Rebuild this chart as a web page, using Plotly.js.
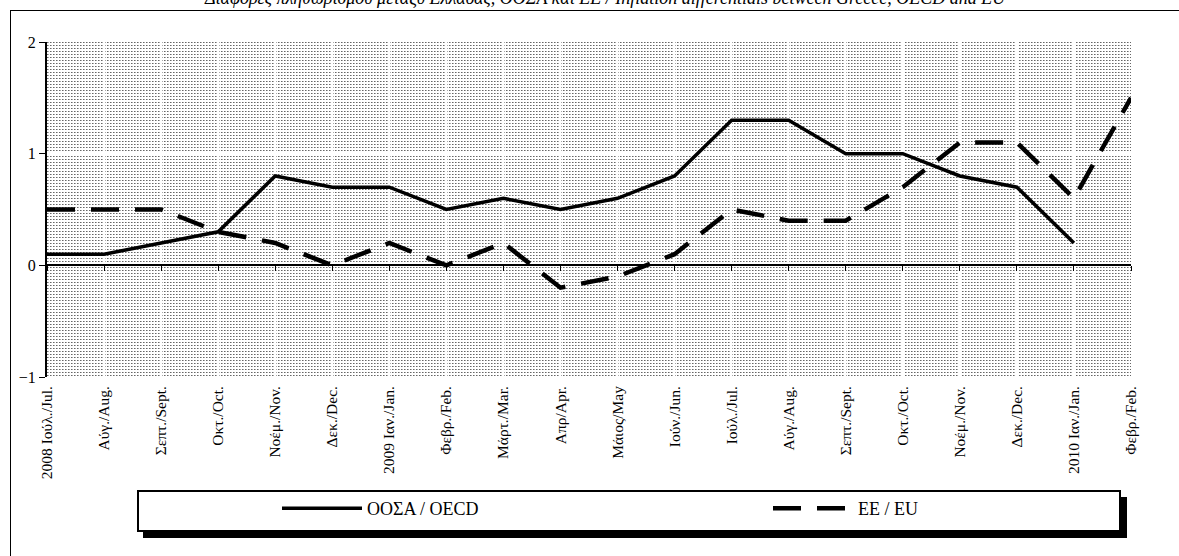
<!DOCTYPE html>
<html>
<head>
<meta charset="utf-8">
<script src="https://cdn.plot.ly/plotly-3.0.1.min.js"></script>
<style>
html,body{margin:0;padding:0;background:#fff;overflow:hidden;}
#frame{position:absolute;left:10px;top:10px;width:1300px;height:700px;border:1px solid #000;box-sizing:border-box;}
#pat{position:absolute;left:47px;top:42px;width:1084px;height:335px;
 background-color:#fff;
 background-image:url("data:image/svg+xml;utf8,<svg xmlns='http://www.w3.org/2000/svg' width='3' height='3'><rect x='0' y='0' width='1' height='1' fill='%23666'/><rect x='1' y='0' width='1' height='1' fill='%23aaa'/></svg>");
 background-size:3px 3px;}
#chart{position:absolute;left:0;top:0;width:1179px;height:556px;}
</style>
</head>
<body>
<div id="frame"></div>
<div id="pat"></div>
<div id="chart"></div>
<script>
const months = ["2008 Ιούλ./Jul.","Αύγ./Aug.","Σεπτ./Sept.","Οκτ./Oct.","Νοέμ./Nov.","Δεκ./Dec.",
  "2009 Ιαν./Jan.","Φεβρ./Feb.","Μάρτ./Mar.","Απρ/Apr.","Μάιος/May","Ιούν./Jun.",
  "Ιούλ./Jul.","Αύγ./Aug.","Σεπτ./Sept.","Οκτ./Oct.","Νοέμ./Nov.","Δεκ./Dec.",
  "2010 Ιαν./Jan.","Φεβρ./Feb."];
const oecd = [0.1,0.1,0.2,0.3,0.8,0.7,0.7,0.5,0.6,0.5,0.6,0.8,1.3,1.3,1.0,1.0,0.8,0.7,0.2,null];
const eu   = [0.5,0.5,0.5,0.3,0.2,0.0,0.2,0.0,0.2,-0.2,-0.1,0.1,0.5,0.4,0.4,0.7,1.1,1.1,0.6,1.5];
const yTicks = [-1,0,1,2];
const titleText = "Διαφορές πληθωρισμού μεταξύ Ελλάδας, ΟΟΣΑ και ΕΕ / Inflation differentials between Greece, OECD and EU";

const idx = months.map((m,i)=>i);
const serif = "Liberation Serif, Times New Roman, serif";

const L = 47, R = 1131, T = 42, B = 377;
const W = R - L, H = B - T;
const px = x => (x - L) / W;
const py = y => (B - y) / H;

const traces = [
  {x: idx, y: oecd, name: "ΟΟΣΑ / OECD", type: "scatter", mode: "lines",
   line: {color: "#000", width: 3.5}, xaxis: "x", yaxis: "y", legend: "legend"},
  {x: idx, y: eu, name: "ΕΕ / EU", type: "scatter", mode: "lines",
   line: {color: "#000", width: 4.5, dash: "28px,16px"}, xaxis: "x2", yaxis: "y", legend: "legend2"}
];

const legStyle = {
  orientation: "h", xanchor: "left", yanchor: "top",
  bgcolor: "rgba(0,0,0,0)", borderwidth: 0,
  font: {family: serif, size: 18, color: "#000"},
  itemwidth: 80, itemclick: false, itemdoubleclick: false
};

const layout = {
  width: 1179, height: 556,
  margin: {l: L, r: 1179 - R, t: T, b: 556 - B, pad: 0},
  paper_bgcolor: "rgba(0,0,0,0)",
  plot_bgcolor: "rgba(0,0,0,0)",
  font: {family: serif, color: "#000", size: 15},
  showlegend: true,
  legend: Object.assign({}, legStyle, {x: px(277), y: py(490)}),
  legend2: Object.assign({}, legStyle, {x: px(768), y: py(490)}),
  xaxis: {
    range: [0, 19], tickmode: "array", tickvals: idx, ticktext: months,
    tickangle: -90, tickfont: {family: serif, size: 15.5, color: "#000"},
    ticks: "", showline: false, zeroline: false, ticklabelstandoff: 5,
    showgrid: true, gridcolor: "#fff", gridwidth: 1.5,
    fixedrange: true, automargin: false
  },
  xaxis2: {
    range: [0, 19], overlaying: "x", anchor: "free", position: py(265),
    tickmode: "array", tickvals: idx, showticklabels: false,
    ticks: "outside", ticklen: 5, tickwidth: 1, tickcolor: "#000",
    showline: true, linecolor: "#000", linewidth: 2,
    showgrid: false, zeroline: false, fixedrange: true
  },
  yaxis: {
    range: [-1, 2], tickmode: "array", tickvals: yTicks,
    ticks: "outside", ticklen: 6, tickwidth: 1, tickcolor: "#000",
    showline: true, linecolor: "#000", linewidth: 2,
    showgrid: true, gridcolor: "#fff", gridwidth: 1.5, zeroline: false,
    tickfont: {family: serif, size: 16, color: "#000"},
    fixedrange: true, automargin: false
  },
  annotations: [{
    text: "<i>" + titleText + "</i>", xref: "paper", yref: "paper",
    x: px(605), y: py(10), xanchor: "center", yanchor: "bottom",
    showarrow: false, font: {family: serif, size: 18, color: "#000"}
  }],
  shapes: [
    {type: "rect", xref: "paper", yref: "paper", x0: px(143), x1: px(1127), y0: py(497), y1: py(538),
     fillcolor: "#000", line: {width: 0}},
    {type: "rect", xref: "paper", yref: "paper", x0: px(138), x1: px(1120), y0: py(491), y1: py(531),
     fillcolor: "#fff", line: {color: "#000", width: 2}}
  ]
};

Plotly.newPlot("chart", traces, layout, {displayModeBar: false, staticPlot: true});
</script>
</body>
</html>
